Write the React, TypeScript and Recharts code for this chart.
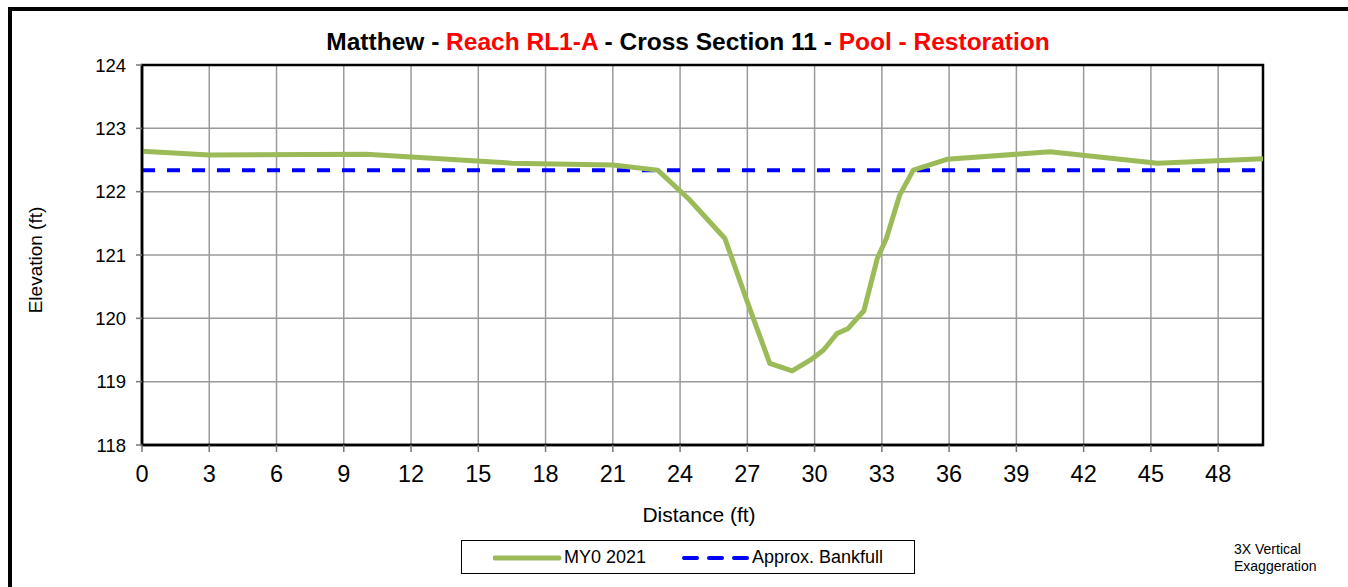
import React from 'react'
import { LineChart, Line, XAxis, YAxis, CartesianGrid, ReferenceArea } from 'recharts'

// surveyed cross section (distance ft, elevation ft)
const station = [0, 3, 10, 16.5, 21, 23, 24.4, 26, 27, 27.4, 28, 29, 29.8, 30.4, 31, 31.5, 32.2, 32.8, 33.2, 33.8, 34.4, 35.9, 40.5, 45.3, 50]
const elevation = [122.64, 122.58, 122.59, 122.45, 122.42, 122.34, 121.88, 121.26, 120.26, 119.87, 119.29, 119.17, 119.34, 119.5, 119.76, 119.84, 120.12, 120.95, 121.26, 121.95, 122.34, 122.51, 122.63, 122.45, 122.52]

const bankfullStation = [0, 50]
const bankfullElev = [122.34, 122.34]

const xTicks = [0, 3, 6, 9, 12, 15, 18, 21, 24, 27, 30, 33, 36, 39, 42, 45, 48]
const yTicks = [118, 119, 120, 121, 122, 123, 124]

const FONT = '"Liberation Sans", Arial, sans-serif'
const GREEN = '#9BBB59'
const BLUE = '#0000FF'

const my0 = station.map((x, i) => ({ x, y: elevation[i] }))
const bankfull = bankfullStation.map((x, i) => ({ x, y: bankfullElev[i] }))

export default function App() {
  return (
    <div style={{ position: 'absolute', left: 0, top: 0, width: 1348, height: 587, background: '#fff', fontFamily: FONT, overflow: 'hidden' }}>
      {/* outer frame */}
      <div style={{ position: 'absolute', left: 8, top: 7, width: 1400, height: 700, borderTop: '4px solid #000', borderLeft: '4px solid #000' }} />

      <div style={{ position: 'absolute', left: 0, top: 0 }}>
        <LineChart width={1348} height={587} margin={{ top: 65, right: 85, bottom: 0, left: 0 }}>
          <CartesianGrid stroke="#9a9a9a" strokeWidth={1.5} />
          <XAxis
            dataKey="x"
            type="number"
            domain={[0, 50]}
            ticks={xTicks}
            height={142}
            tickSize={7}
            tickMargin={13}
            stroke="#000"
            tickLine={{ stroke: '#777', strokeWidth: 1.5 }}
            axisLine={{ stroke: '#000', strokeWidth: 2.5 }}
            tick={{ fill: '#000', fontSize: 23.5, fontFamily: FONT }}
            allowDataOverflow
          />
          <YAxis
            dataKey="y"
            type="number"
            domain={[118, 124]}
            ticks={yTicks}
            width={142}
            tickSize={6}
            tickMargin={10}
            stroke="#000"
            tickLine={{ stroke: '#777', strokeWidth: 1.5 }}
            axisLine={{ stroke: '#000', strokeWidth: 2.5 }}
            tick={{ fill: '#000', fontSize: 18.5, fontFamily: FONT }}
            allowDataOverflow
          />
          <ReferenceArea x1={0} x2={50} y1={118} y2={124} fill="none" stroke="#000" strokeWidth={2.5} ifOverflow="visible" />
          <Line
            data={bankfull}
            dataKey="y"
            stroke={BLUE}
            strokeWidth={4}
            strokeDasharray="13 12"
            dot={false}
            isAnimationActive={false}
          />
          <Line
            data={my0}
            dataKey="y"
            stroke={GREEN}
            strokeWidth={5}
            strokeLinejoin="round"
            dot={false}
            isAnimationActive={false}
          />
        </LineChart>
      </div>

      {/* title */}
      <div style={{ position: 'absolute', left: 0, width: 1376, top: 28, textAlign: 'center', fontSize: 24.5, fontWeight: 'bold', whiteSpace: 'nowrap' }}>
        <span style={{ color: '#000' }}>Matthew - </span>
        <span style={{ color: '#FF0000' }}>Reach RL1-A</span>
        <span style={{ color: '#000' }}> - Cross Section 11 - </span>
        <span style={{ color: '#FF0000' }}>Pool - Restoration</span>
      </div>

      {/* axis titles */}
      <div style={{ position: 'absolute', left: 36, top: 260, fontSize: 19, transform: 'translate(-50%, -50%) rotate(-90deg)', whiteSpace: 'nowrap' }}>
        Elevation (ft)
      </div>
      <div style={{ position: 'absolute', left: 699, top: 515, fontSize: 21, transform: 'translate(-50%, -50%)', whiteSpace: 'nowrap' }}>
        Distance (ft)
      </div>

      {/* legend */}
      <div style={{ position: 'absolute', left: 461, top: 540, width: 454, height: 34, border: '1.5px solid #000', boxSizing: 'border-box' }}>
        <svg width={70} height={10} style={{ position: 'absolute', left: 31, top: 12 }}>
          <line x1={2} y1={5} x2={66} y2={5} stroke={GREEN} strokeWidth={5} strokeLinecap="round" />
        </svg>
        <div style={{ position: 'absolute', left: 102, top: 6, fontSize: 18 }}>MY0 2021</div>
        <svg width={70} height={10} style={{ position: 'absolute', left: 220, top: 12 }}>
          <line x1={2} y1={5} x2={65} y2={5} stroke={BLUE} strokeWidth={4} strokeDasharray="13 12" strokeLinecap="round" />
        </svg>
        <div style={{ position: 'absolute', left: 290, top: 6, fontSize: 18 }}>Approx. Bankfull</div>
      </div>

      <div style={{ position: 'absolute', left: 1234, top: 541, fontSize: 14, lineHeight: '17px' }}>
        3X Vertical<br />Exaggeration
      </div>
    </div>
  )
}
